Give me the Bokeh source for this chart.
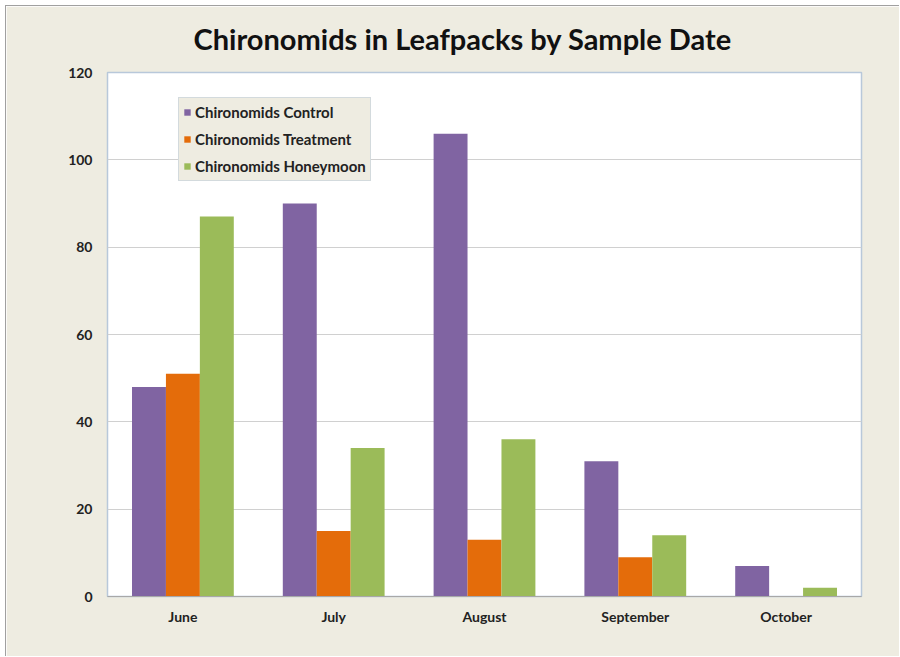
from bokeh.plotting import figure
from bokeh.models import ColumnDataSource, FactorRange, Legend, LegendItem, SingleIntervalTicker
from bokeh.transform import dodge
from bokeh.embed import file_html
from bokeh.resources import INLINE

months = ["June", "July", "August", "September", "October"]
control = [48, 90, 106, 31, 7]
treatment = [51, 15, 13, 9, 0]
honeymoon = [87, 34, 36, 14, 2]
series_names = ["Chironomids Control", "Chironomids Treatment", "Chironomids Honeymoon"]
colors = ["#8064A2", "#E46C0A", "#9BBB59"]
title_text = "Chironomids in Leafpacks by Sample Date"

src = ColumnDataSource(data=dict(months=months, control=control,
                                 treatment=treatment, honeymoon=honeymoon))

FONT = "Lato"
BG = "#EEECE1"

p = figure(x_range=FactorRange(*months, range_padding=0), y_range=(0, 120),
           width=894, height=651, output_backend="svg", toolbar_location=None,
           min_border_left=101, min_border_right=39, min_border_top=66, min_border_bottom=61)
p.background_fill_color = "white"
p.border_fill_color = BG
p.outline_line_color = "#B8C8DA"
p.outline_line_width = 1.5
p.styles = {"margin-top": "5px", "margin-left": "5px",
            "border-top": "1px solid #A0A0A0", "border-left": "1px solid #A0A0A0"}

p.title.text = title_text
p.title.align = "left"
p.title.offset = 86
p.title.vertical_align = "top"
p.title.text_font = FONT
p.title.text_font_size = "29px"
p.title.text_font_style = "bold"
p.title.text_color = "#111111"
p.title.standoff = 29

w = 0.225
renderers = []
for field, off, c in zip(["control", "treatment", "honeymoon"], [-w, 0, w], colors):
    r = p.vbar(x=dodge("months", off, range=p.x_range), top=field, width=w,
               source=src, fill_color=c, line_color=None)
    renderers.append(r)

p.yaxis.ticker = SingleIntervalTicker(interval=20)
for ax in (p.xaxis[0], p.yaxis[0]):
    ax.major_label_text_font = FONT
    ax.major_label_text_font_size = "14px"
    ax.major_label_text_font_style = "bold"
    ax.major_label_text_color = "#222222"
    ax.major_tick_line_color = None
    ax.minor_tick_line_color = None
p.yaxis.axis_line_color = None
p.yaxis.major_label_standoff = 9
p.xaxis.axis_line_color = "#A8A8A8"
p.xaxis.major_label_standoff = 5

p.xgrid.grid_line_color = None
p.ygrid.grid_line_color = "#D0D0D0"
p.ygrid.grid_line_width = 1.2

legend = Legend(items=[LegendItem(label=n, renderers=[r]) for n, r in zip(series_names, renderers)],
                location=(71, 415))
legend.background_fill_color = BG
legend.background_fill_alpha = 1
legend.border_line_color = "#B8C8DA"
legend.border_line_width = 1.5
legend.label_text_font = FONT
legend.label_text_font_size = "15px"
legend.label_text_font_style = "bold"
legend.label_text_color = "#222222"
legend.glyph_width = 8
legend.glyph_height = 8
legend.label_height = 20
legend.spacing = 7
legend.padding = 4
legend.margin = 0
legend.label_standoff = 4
p.add_layout(legend, "center")

open("out.html", "w").write(file_html(p, INLINE))
